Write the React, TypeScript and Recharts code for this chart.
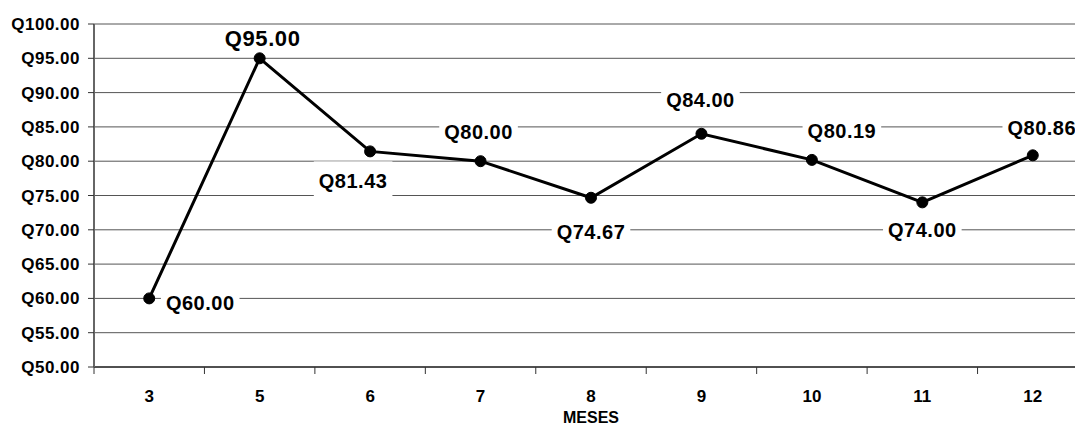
import React from "react";
import { LineChart, Line, XAxis, YAxis, CartesianGrid, LabelList } from "recharts";

const MESES = ["3", "5", "6", "7", "8", "9", "10", "11", "12"];
const PROMEDIOS = [60, 95, 81.43, 80, 74.67, 84, 80.19, 74, 80.86];
const Y_TICKS = [50, 55, 60, 65, 70, 75, 80, 85, 90, 95, 100];

// where each value label sits relative to its point
const LABEL_DX = [51, 3, -17, -2, 0, -1, 30, 0, 9];
const LABEL_DY = [4, -20, 29, -29, 34, -34, -29, 27, -28];

const FONT = "'Liberation Sans', Arial, sans-serif";
const CHART_W = 1088;
const CHART_H = 426;
const Y_AXIS_W = 94;
const BAND = (CHART_W - Y_AXIS_W) / MESES.length;

const data = MESES.map((mes, i) => ({ mes, promedio: PROMEDIOS[i] }));

const quetzales = (v: number) => "Q" + v.toFixed(2);

const MesTick = ({ x, y, payload }: any) => (
  <g>
    <line x1={x - BAND / 2} y1={y} x2={x - BAND / 2} y2={y + 7} stroke="#333" strokeWidth={1} />
    <text x={x} y={y + 35} textAnchor="middle" fontFamily={FONT} fontWeight="bold" fontSize={17} fill="#000">
      {payload.value}
    </text>
  </g>
);

const ValorLabel = ({ x, y, value, index }: any) => {
  const big = index === 1;
  const fs = big ? 22 : 20;
  const ls = big ? 0.6 : 0.5;
  const cx = x + LABEL_DX[index];
  const cy = y + LABEL_DY[index];
  const w = fs * 3.28 + ls * 6 + 10;
  // the top label sits tight between the 100 gridline and its own dot
  const h = big ? 26 : 38;
  return (
    <g>
      <rect x={cx - w / 2} y={cy - h / 2} width={w} height={h} fill="#fff" />
      <text
        x={cx}
        y={cy}
        dy="0.36em"
        textAnchor="middle"
        fontFamily={FONT}
        fontWeight="bold"
        fontSize={fs}
        letterSpacing={ls}
        fill="#000"
      >
        {quetzales(value)}
      </text>
    </g>
  );
};

export default function App() {
  return (
    <div style={{ position: "absolute", left: 0, top: 0, width: 1075, height: 426, overflow: "hidden", background: "#fff" }}>
      <LineChart width={CHART_W} height={CHART_H} data={data} margin={{ top: 24, right: 0, bottom: 0, left: 0 }}>
        <CartesianGrid vertical={false} stroke="#555" strokeWidth={1} />
        <XAxis
          dataKey="mes"
          height={59}
          padding={{ left: BAND / 2, right: BAND / 2 }}
          tickSize={0}
          tickMargin={0}
          tickLine={false}
          tick={<MesTick />}
          axisLine={{ stroke: "#333", strokeWidth: 1.5 }}
          interval={0}
          label={{
            value: "MESES",
            position: "insideBottom",
            offset: 3,
            fill: "#000",
            fontFamily: FONT,
            fontWeight: "bold",
            fontSize: 16,
          }}
        />
        <YAxis
          width={Y_AXIS_W}
          domain={[50, 100]}
          ticks={Y_TICKS}
          interval={0}
          tickFormatter={quetzales}
          tickSize={6}
          tickMargin={8}
          tickLine={{ stroke: "#333" }}
          axisLine={{ stroke: "#666", strokeWidth: 2 }}
          tick={{ fontFamily: FONT, fontWeight: "bold", fontSize: 17, fill: "#000", letterSpacing: 0.5 }}
        />
        <Line
          dataKey="promedio"
          stroke="#000"
          strokeWidth={3}
          dot={{ r: 5.5, fill: "#000", stroke: "#000", strokeWidth: 1 }}
          isAnimationActive={false}
        >
          <LabelList dataKey="promedio" content={<ValorLabel />} />
        </Line>
      </LineChart>
    </div>
  );
}
